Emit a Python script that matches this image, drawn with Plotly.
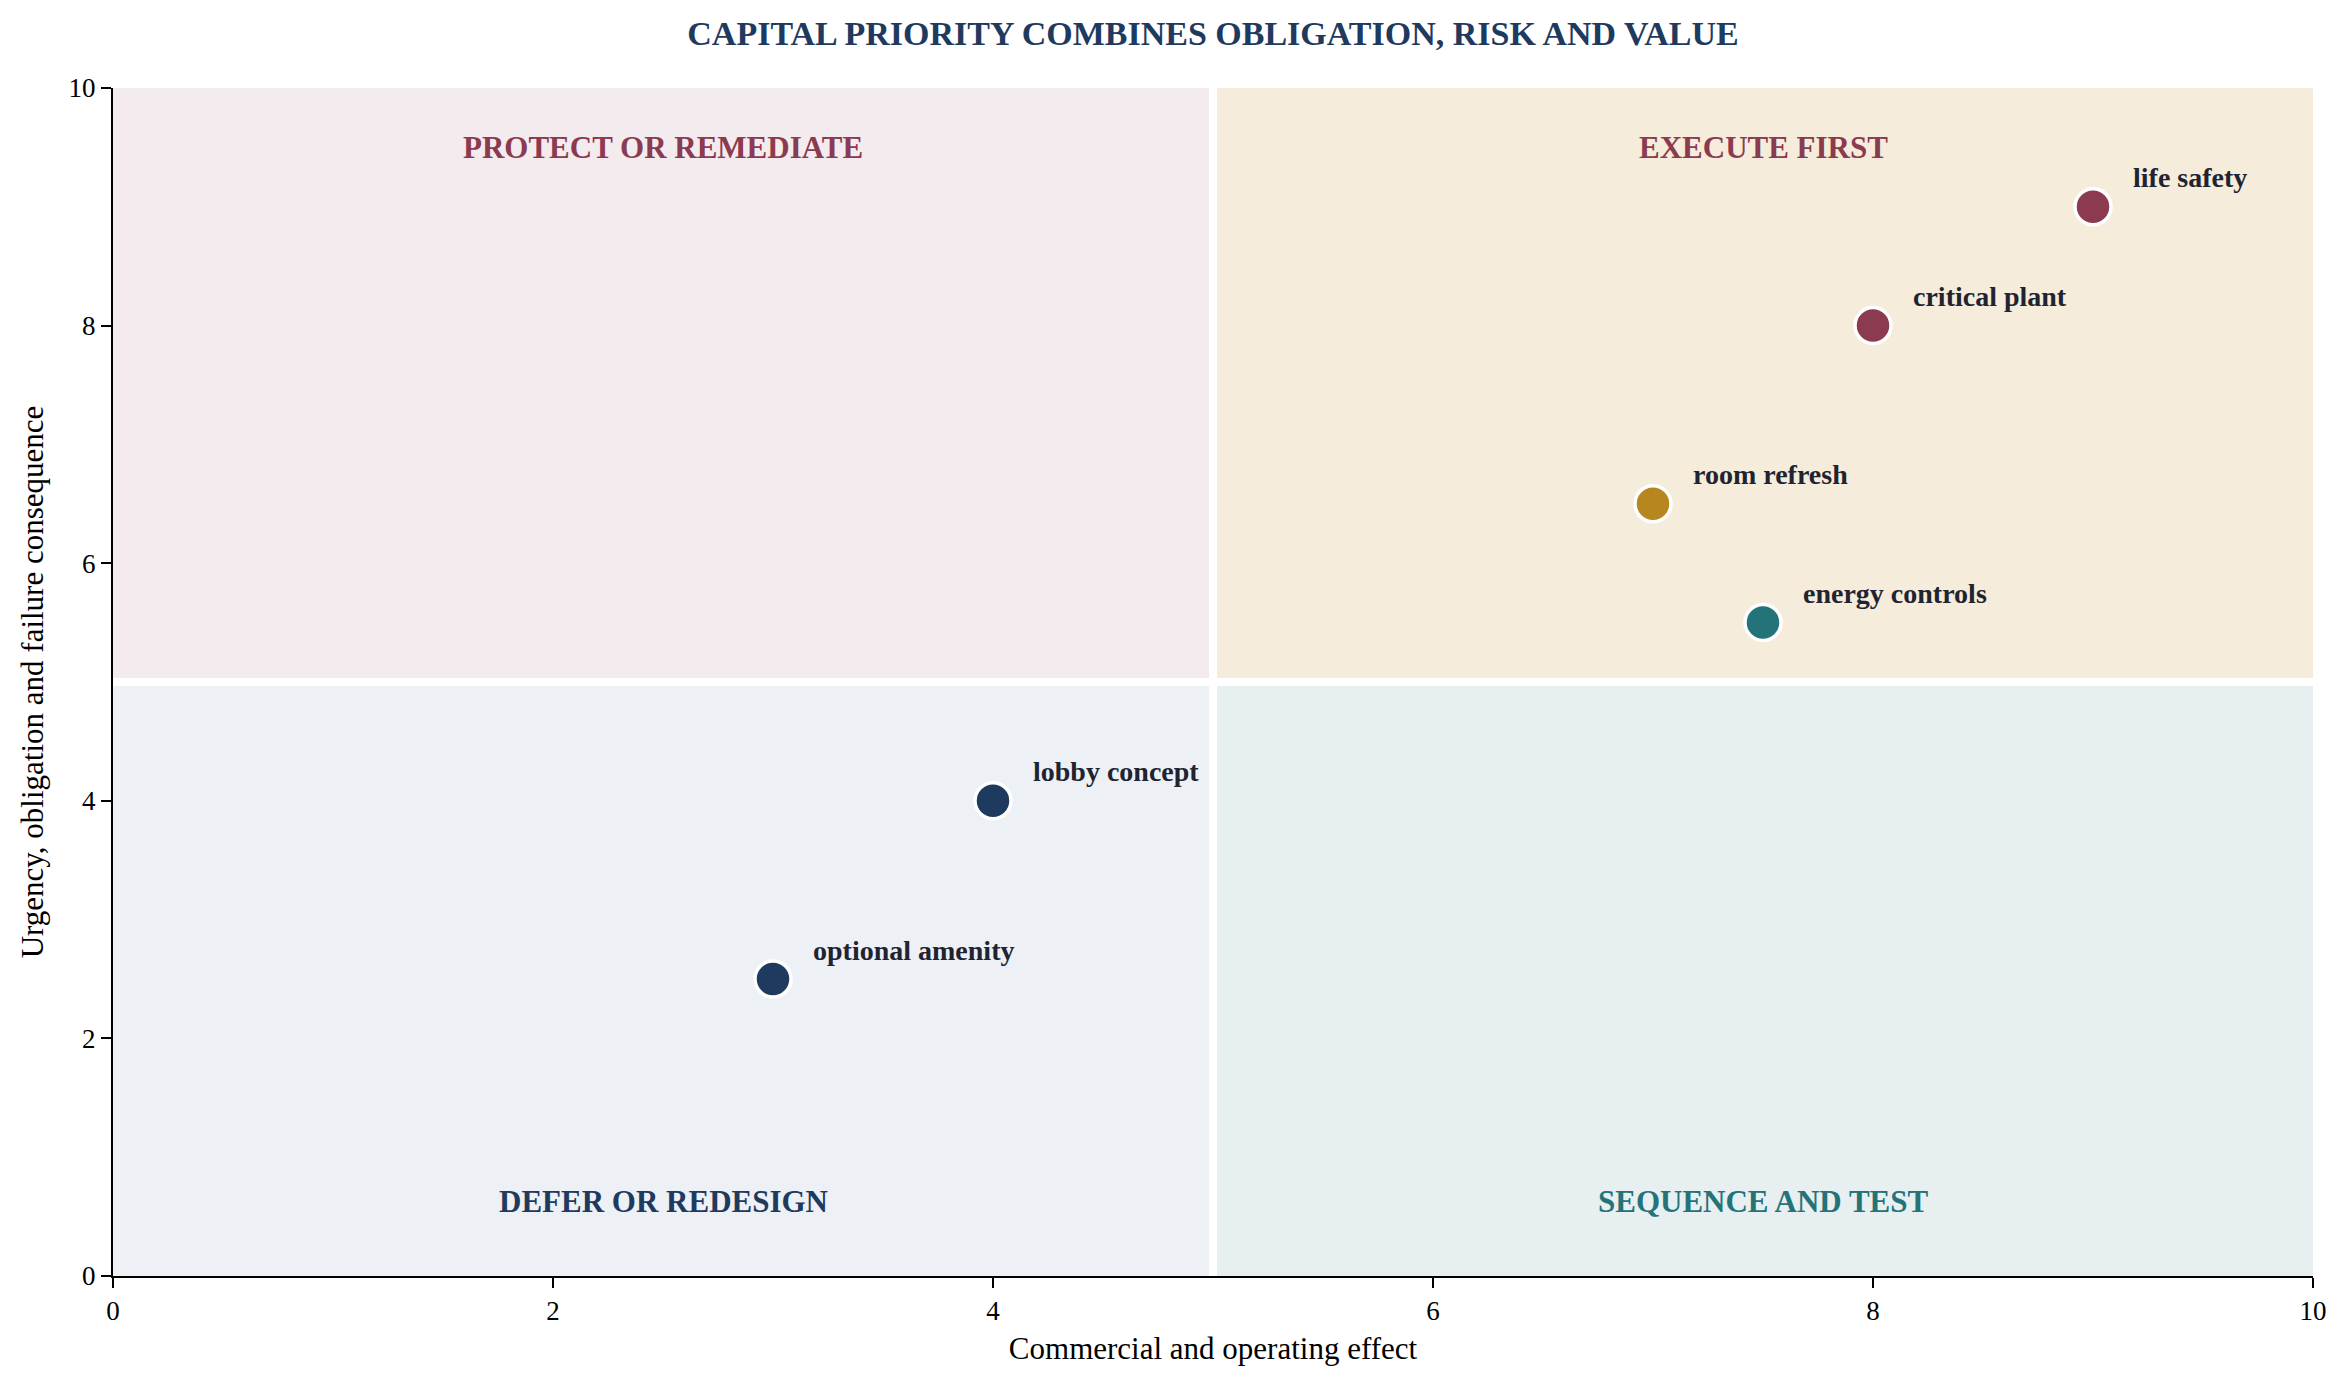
import plotly.graph_objects as go

# initiatives plotted on the priority matrix
names = ["life safety", "critical plant", "room refresh", "energy controls", "lobby concept", "optional amenity"]
effect = [9, 8, 7, 7.5, 4, 3]
urgency = [9, 8, 6.5, 5.5, 4, 2.5]
tier = ["risk", "risk", "value", "efficiency", "discretionary", "discretionary"]

# quadrant split and labels
split = 5
quad_labels = ["PROTECT OR REMEDIATE", "EXECUTE FIRST", "DEFER OR REDESIGN", "SEQUENCE AND TEST"]

x_ticks = [0, 2, 4, 6, 8, 10]
y_ticks = [0, 2, 4, 6, 8, 10]

MAROON = "#8b3a50"
GOLD = "#b8861f"
TEAL = "#237378"
NAVY = "#1f3a5f"
INK = "#1f2430"
FONT = "Liberation Serif"

tier_colors = {"risk": MAROON, "value": GOLD, "efficiency": TEAL, "discretionary": NAVY}

# the page body adds an 8px margin, so the figure is a little smaller than the window
W, H = 2342, 1378

fig = go.Figure()

# quadrant backgrounds
quads = [
    (0, split, split, 10, "#f4ebef"),
    (split, 10, split, 10, "#f5ecdb"),
    (0, split, 0, split, "#edf1f6"),
    (split, 10, 0, split, "#e7eff1"),
]
for x0, x1, y0, y1, col in quads:
    fig.add_shape(type="rect", x0=x0, x1=x1, y0=y0, y1=y1, fillcolor=col,
                  line_width=0, layer="below")
fig.add_shape(type="line", x0=split, x1=split, y0=0, y1=10, line=dict(color="white", width=8), layer="below")
fig.add_shape(type="line", x0=0, x1=10, y0=split, y1=split, line=dict(color="white", width=8), layer="below")

fig.add_trace(go.Scatter(
    x=effect, y=urgency, mode="markers",
    marker=dict(size=36, color=[tier_colors[t] for t in tier], line=dict(color="white", width=3.5)),
    hoverinfo="skip", showlegend=False, cliponaxis=False,
))

for n, xv, yv in zip(names, effect, urgency):
    fig.add_annotation(x=xv, y=yv, text=n, showarrow=False, xanchor="left", yanchor="middle",
                       xshift=38, yshift=29,
                       font=dict(family=FONT, size=28, color=INK, weight="bold"))

# quadrant names
quad_pos = [(split / 2, 9.5, MAROON), (split + split / 2, 9.5, MAROON),
            (split / 2, 0.63, NAVY), (split + split / 2, 0.63, TEAL)]
for lab, (xv, yv, col) in zip(quad_labels, quad_pos):
    fig.add_annotation(x=xv, y=yv, text=lab, showarrow=False, xanchor="center", yanchor="middle",
                       font=dict(family=FONT, size=31, color=col, weight="bold"))

axis_style = dict(showgrid=False, zeroline=False, showline=True, linecolor="black", linewidth=2,
                  ticks="outside", ticklen=10, tickwidth=2, tickcolor="black",
                  tickfont=dict(family=FONT, size=27, color="black"), mirror=False)

fig.update_xaxes(range=[0, 10], tickvals=x_ticks, **axis_style,
                 title=dict(text="Commercial and operating effect", standoff=12,
                            font=dict(family=FONT, size=31, color="black")))
fig.update_yaxes(range=[0, 10], tickvals=y_ticks, **axis_style,
                 title=dict(text="Urgency, obligation and failure consequence", standoff=16,
                            font=dict(family=FONT, size=31, color="black")))

fig.update_layout(
    width=W, height=H,
    margin=dict(l=105, r=37, t=80, b=110),
    plot_bgcolor="white", paper_bgcolor="white",
    title=dict(text="CAPITAL PRIORITY COMBINES OBLIGATION, RISK AND VALUE", x=0.5, xref="paper",
               y=1 - 25 / H, yanchor="middle",
               font=dict(family=FONT, size=34, color=NAVY, weight="bold")),
    showlegend=False,
    hovermode=False,
)

fig.write_html("out.html", config={"displayModeBar": False})
